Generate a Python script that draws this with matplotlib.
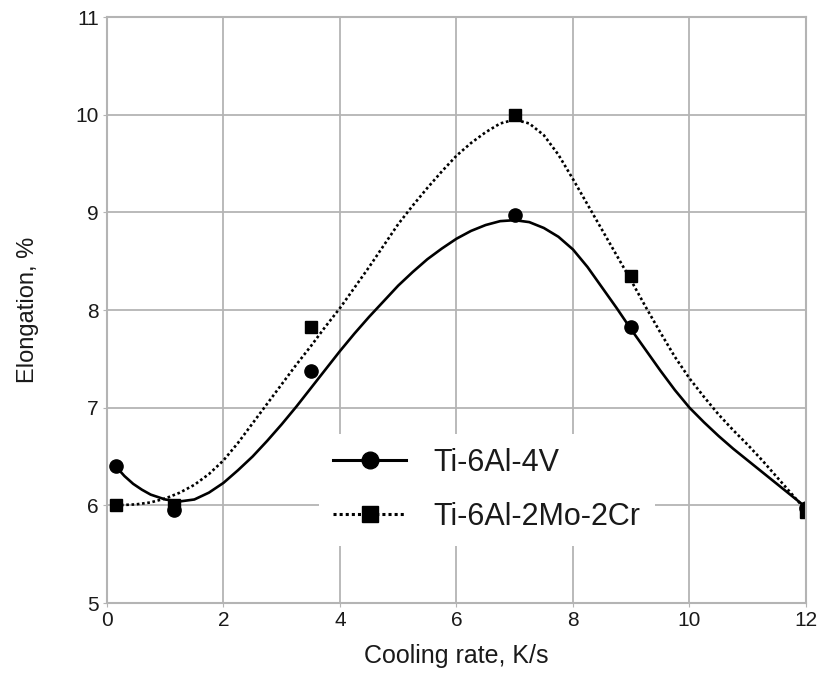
import matplotlib
matplotlib.use('Agg')
import matplotlib.pyplot as plt
from matplotlib.lines import Line2D

plt.rcParams['font.family'] = ['Liberation Sans', 'DejaVu Sans']

# ----------------- measured points -----------------
rate_pts = [0.15, 1.15, 3.5, 7.0, 9.0, 12.0]
ti64_pts = [6.40, 5.95, 7.38, 8.97, 7.83, 5.97]
ti6226_pts = [6.00, 6.00, 7.83, 10.00, 8.35, 5.93]

# ----------------- fitted curves -----------------
ti64_curve_x = [0.15, 0.3, 0.45, 0.6, 0.75, 1.0, 1.25, 1.5, 1.75, 2.0, 2.25, 2.5,
                2.75, 3.0, 3.25, 3.5, 3.75, 4.0, 4.25, 4.5, 4.75, 5.0, 5.25, 5.5,
                5.75, 6.0, 6.25, 6.5, 6.75, 7.0, 7.25, 7.5, 7.75, 8.0, 8.25, 8.5,
                8.75, 9.0, 9.25, 9.5, 9.75, 10.0, 10.25, 10.5, 10.75, 11.0, 11.25,
                11.5, 11.75, 12.0]
ti64_curve_y = [6.40, 6.30, 6.22, 6.16, 6.11, 6.06, 6.04, 6.06, 6.13, 6.23, 6.36, 6.50,
                6.66, 6.83, 7.01, 7.20, 7.39, 7.58, 7.76, 7.93, 8.09, 8.25, 8.39, 8.52,
                8.63, 8.73, 8.81, 8.87, 8.91, 8.92, 8.90, 8.84, 8.75, 8.62, 8.44, 8.23,
                8.02, 7.80, 7.59, 7.38, 7.18, 7.00, 6.85, 6.71, 6.58, 6.46, 6.34,
                6.22, 6.10, 5.98]

ti6226_curve_x = [0.15, 0.5, 0.75, 1.0, 1.25, 1.5, 1.75, 2.0, 2.25, 2.5, 2.75, 3.0,
                  3.25, 3.5, 3.75, 4.0, 4.25, 4.5, 4.75, 5.0, 5.25, 5.5, 5.75, 6.0,
                  6.25, 6.5, 6.75, 7.0, 7.25, 7.5, 7.75, 8.0, 8.25, 8.5, 8.75, 9.0,
                  9.25, 9.5, 9.75, 10.0, 10.25, 10.5, 10.75, 11.0, 11.25, 11.5,
                  11.75, 12.0]
ti6226_curve_y = [6.00, 6.01, 6.03, 6.07, 6.13, 6.21, 6.32, 6.46, 6.64, 6.84, 7.04, 7.24,
                  7.44, 7.63, 7.83, 8.02, 8.23, 8.44, 8.66, 8.88, 9.07, 9.25, 9.42, 9.58,
                  9.71, 9.82, 9.91, 9.95, 9.91, 9.79, 9.59, 9.34, 9.08, 8.82, 8.56, 8.30,
                  8.03, 7.77, 7.52, 7.30, 7.11, 6.93, 6.77, 6.62, 6.46, 6.29,
                  6.12, 5.95]

x_ticks = [0, 2, 4, 6, 8, 10, 12]
y_ticks = [5, 6, 7, 8, 9, 10, 11]

# ----------------- plot -----------------
fig = plt.figure(figsize=(8.21, 6.73), dpi=100)
ax = fig.add_axes([0.1303, 0.104, 0.8514, 0.8707])

grid_c = '#b4b4b4'
ax.set_xlim(0, 12)
ax.set_ylim(5, 11)
ax.set_xticks(x_ticks)
ax.set_yticks(y_ticks)
ax.grid(True, color=grid_c, linewidth=1.3)
ax.set_axisbelow(True)
for s in ax.spines.values():
    s.set_color(grid_c)
    s.set_linewidth(1.5)
ax.tick_params(length=3, color=grid_c, labelsize=15, pad=3, labelcolor='#1a1a1a')

ax.plot(ti64_curve_x, ti64_curve_y, color='black', lw=1.9, solid_capstyle='round')
ax.plot(ti6226_curve_x, ti6226_curve_y, color='black', lw=1.9, dashes=(1, 1))
ax.plot(rate_pts, ti64_pts, 'o', color='black', ms=9.5, ls='none')
ax.plot(rate_pts, ti6226_pts, 's', color='black', ms=8.5, ls='none')

ax.set_xlabel('Cooling rate, K/s', fontsize=18, color='#1a1a1a', labelpad=10)
ax.set_ylabel('Elongation, %', fontsize=17, color='#1a1a1a', labelpad=26)

handles = [
    Line2D([], [], color='black', lw=2.2, marker='o', ms=12),
    Line2D([], [], color='black', lw=2.2, dashes=(1, 1), marker='s', ms=11),
]
leg = ax.legend(handles, ['Ti-6Al-4V', 'Ti-6Al-2Mo-2Cr'], loc='center',
                bbox_to_anchor=(0.5436, 0.193), fontsize=22, frameon=True,
                framealpha=1, facecolor='white', edgecolor='none',
                handlelength=2.4, handletextpad=0.9, labelspacing=0.8,
                borderpad=0.45, fancybox=False)
for t in leg.get_texts():
    t.set_color('#1a1a1a')

fig.savefig('out.png', dpi=100)
